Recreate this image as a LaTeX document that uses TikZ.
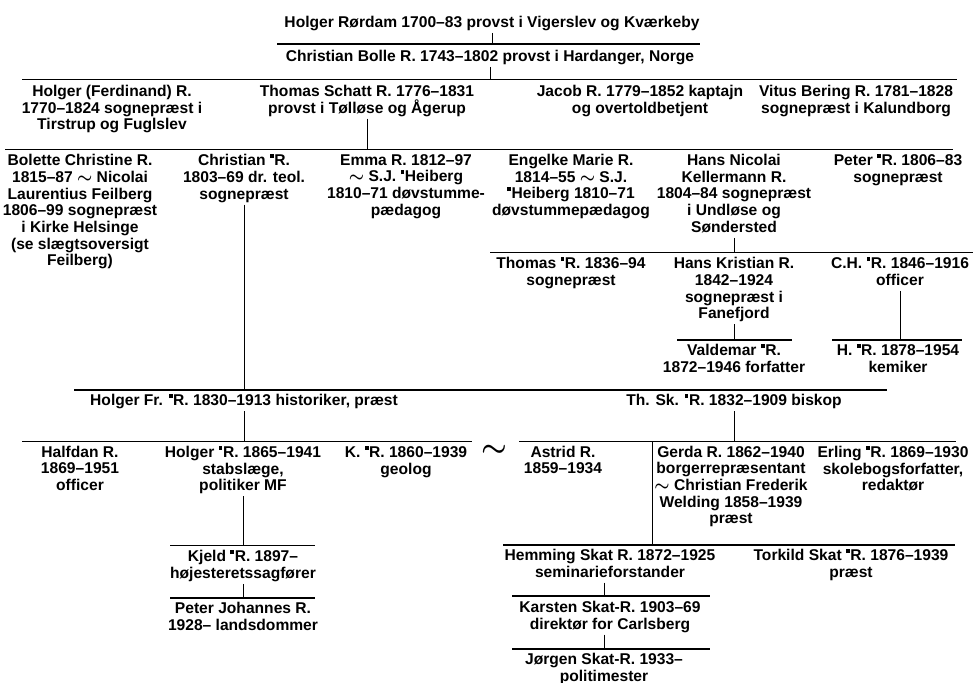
\documentclass[tikz,border=0pt]{standalone}
\usepackage{fontspec}
\setmainfont{Liberation Sans}
\usepackage{tikz}
\newcommand{\sqR}{\rule[0.5em]{0.24em}{0.24em}\kern0.04em}
\newcommand{\swd}{{\boldmath$\sim$}}

\begin{document}
\begin{tikzpicture}[x=0.5pt,y=-0.5pt,
  person/.style={anchor=north,yshift=3.05pt,inner sep=0pt,align=center,
    font=\fontsize{7.8}{8.35}\selectfont\bfseries,execute at begin node=\strut},
  bar/.style={line width=0.8pt},
  tick/.style={line width=0.5pt}]
  \useasboundingbox (0,0) rectangle (977,683);
  % bars
  \coordinate (b1l) at (277,44);    \coordinate (b1r) at (700,44);
  \coordinate (b2l) at (22,79.5);   \coordinate (b2r) at (957,79.5);
  \coordinate (b3l) at (5,149.5);   \coordinate (b3r) at (953,149.5);
  \coordinate (b4l) at (490,252.5); \coordinate (b4r) at (973,252.5);
  \coordinate (b5l) at (677,340);   \coordinate (b5r) at (792,340);
  \coordinate (b6l) at (832,340);   \coordinate (b6r) at (962,340);
  \coordinate (b7l) at (74,390);    \coordinate (b7r) at (887,390);
  \coordinate (b8l) at (22,441.5);  \coordinate (b8r) at (472,441.5);
  \coordinate (b9l) at (519,441.5); \coordinate (b9r) at (956,441.5);
  \coordinate (b10l) at (170,545.5);\coordinate (b10r) at (315,545.5);
  \coordinate (b11l) at (170,598);  \coordinate (b11r) at (315,598);
  \coordinate (b12l) at (503,545);  \coordinate (b12r) at (955,545);
  \coordinate (b13l) at (512,596);  \coordinate (b13r) at (710,596);
  \coordinate (b14l) at (512,649);  \coordinate (b14r) at (710,649);
  \coordinate (sep) at (652,441.5);
  \foreach \b in {b1,b2,b3,b4,b5,b6,b7,b8,b9,b10,b11,b12,b13,b14}
    \draw[bar] (\b l) -- (\b r);

  \node[person] (rordam) at (492,21.5) {Holger Rørdam 1700–83 provst i Vigerslev og Kværkeby};
  \node[person] (bolle) at (490,55.5) {Christian Bolle R. 1743–1802 provst i Hardanger, Norge};

  \node[person] (holgerf) at (112,91) {Holger (Ferdinand) R.\\1770–1824 sognepræst i\\Tirstrup og Fuglslev};
  \node[person] (schatt) at (367,91) {Thomas Schatt R. 1776–1831\\provst i Tølløse og Ågerup};
  \node[person] (jacob) at (640,91) {Jacob R. 1779–1852 kaptajn\\og overtoldbetjent};
  \node[person] (vitus) at (856,91) {Vitus Bering R. 1781–1828\\sognepræst i Kalundborg};

  \node[person] (bolette) at (80,160) {Bolette Christine R.\\1815–87 \swd{} Nicolai\\Laurentius Feilberg\\1806–99 sognepræst\\i Kirke Helsinge\\(se slægtsoversigt\\Feilberg)};
  \node[person] (christian) at (244,160) {Christian \sqR R.\\1803–69 dr. teol.\\sognepræst};
  \node[person] (emma) at (406,160) {Emma R. 1812–97\\\swd{} S.J. \sqR Heiberg\\1810–71 døvstumme-\\pædagog};
  \node[person] (engelke) at (571,160) {Engelke Marie R.\\1814–55 \swd{} S.J.\\\sqR Heiberg 1810–71\\døvstummepædagog};
  \node[person] (hansnic) at (734,160) {Hans Nicolai\\Kellermann R.\\1804–84 sognepræst\\i Undløse og\\Søndersted};
  \node[person] (peter) at (898,160) {Peter \sqR R. 1806–83\\sognepræst};

  \node[person] (thomasr) at (571,263) {Thomas \sqR R. 1836–94\\sognepræst};
  \node[person] (hanskr) at (734,263) {Hans Kristian R.\\1842–1924\\sognepræst i\\Fanefjord};
  \node[person] (ch) at (900,263) {C.H. \sqR R. 1846–1916\\officer};
  \node[person] (valdemar) at (734,350) {Valdemar \sqR R.\\1872–1946 forfatter};
  \node[person] (hr) at (898,350) {H. \sqR R. 1878–1954\\kemiker};

  \node[person] (holgerfr) at (244,400) {Holger Fr. \sqR R. 1830–1913 historiker, præst};
  \node[person] (thsk) at (734,400) {Th. Sk. \sqR R. 1832–1909 biskop};

  \node[person] (halfdan) at (80,451.5) {Halfdan R.\\1869–1951\\officer};
  \node[person] (holgerr) at (243,451.5) {Holger \sqR R. 1865–1941\\stabslæge,\\politiker MF};
  \node[person] (kr) at (406,451.5) {K. \sqR R. 1860–1939\\geolog};
  \node[inner sep=0pt,font=\fontsize{15}{15}\selectfont\boldmath] (gift) at (494,451) {$\sim$};
  \node[person] (astrid) at (563,451.5) {Astrid R.\\1859–1934};
  \node[person] (gerda) at (731,451.5) {Gerda R. 1862–1940\\borgerrepræsentant\\\swd{} Christian Frederik\\Welding 1858–1939\\præst};
  \node[person] (erling) at (893,451.5) {Erling \sqR R. 1869–1930\\skolebogsforfatter,\\redaktør};

  \node[person] (kjeld) at (243,556) {Kjeld \sqR R. 1897–\\højesteretssagfører};
  \node[person] (peterj) at (243,608) {Peter Johannes R.\\1928– landsdommer};
  \node[person] (hemming) at (610,555) {Hemming Skat R. 1872–1925\\seminarieforstander};
  \node[person] (torkild) at (851,555) {Torkild Skat \sqR R. 1876–1939\\præst};
  \node[person] (karsten) at (610,607) {Karsten Skat-R. 1903–69\\direktør for Carlsberg};
  \node[person] (jorgen) at (604,659) {Jørgen Skat-R. 1933–\\politimester};

  \draw[tick] (rordam.south) -- (rordam.south |- b1l);
  \draw[tick] (bolle.south) -- (bolle.south |- b2l);
  \draw[tick] (schatt.south) -- (schatt.south |- b3l);
  \draw[tick] (hansnic.south) -- (hansnic.south |- b4l);
  \draw[tick] (hanskr.south) -- (hanskr.south |- b5l);
  \draw[tick] (ch.south) -- (ch.south |- b6l);
  \draw[tick] (christian.south) -- (christian.south |- b7l);
  \draw[tick] (holgerfr.south) -- (holgerfr.south |- b8l);
  \draw[tick] (thsk.south) -- (thsk.south |- b9l);
  \draw[tick] (holgerr.south) -- (holgerr.south |- b10l);
  \draw[tick] (kjeld.south) -- (kjeld.south |- b11l);
  \draw[tick] (sep) -- (sep |- b12l);
  \draw[tick] ([xshift=-3pt]hemming.south) -- ([xshift=-3pt]hemming.south |- b13l);
  \draw[tick] ([xshift=-3pt]karsten.south) -- ([xshift=-3pt]karsten.south |- b14l);
\end{tikzpicture}
\end{document}
